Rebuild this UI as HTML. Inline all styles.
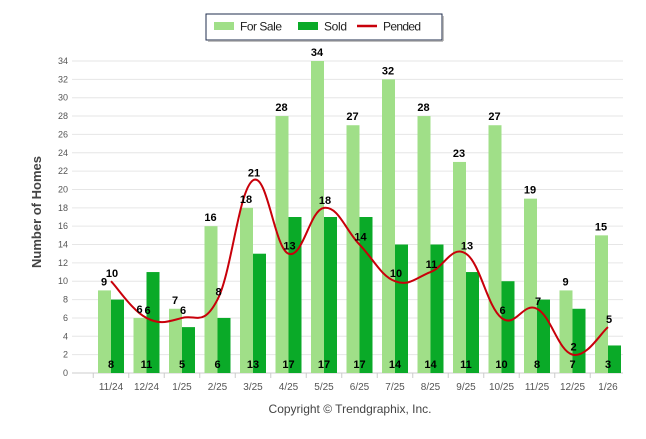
<!DOCTYPE html>
<html><head><meta charset="utf-8"><style>
body{margin:0;background:#fff;width:646px;height:434px;overflow:hidden;font-family:"Liberation Sans",sans-serif}
svg text{font-family:"Liberation Sans",sans-serif}
</style></head><body>
<svg id="c" width="646" height="434">
<g>
<rect x="206" y="14" width="236" height="26" fill="#fff" stroke="#1f2d4e" stroke-width="1"/>
<line x1="208" y1="41" x2="443" y2="41" stroke="#aaa" stroke-width="1.5"/>
<line x1="443" y1="16" x2="443" y2="41" stroke="#aaa" stroke-width="1.5"/>
<rect x="214" y="22" width="20" height="8" fill="#a0df88"/>
<text x="240" y="30.5" font-size="12" fill="#222" textLength="42">For Sale</text>
<rect x="298" y="22" width="20" height="8" fill="#0aaa28"/>
<text x="324" y="30.5" font-size="12" fill="#222" textLength="23">Sold</text>
<line x1="357" y1="26" x2="377" y2="26" stroke="#c8000a" stroke-width="2.5"/>
<text x="383" y="30.5" font-size="12" fill="#222" textLength="38">Pended</text>
</g>
<text transform="translate(41,212) rotate(-90)" text-anchor="middle" font-size="13" font-weight="bold" fill="#444">Number of Homes</text>
<text x="350" y="413" text-anchor="middle" font-size="12" fill="#444">Copyright © Trendgraphix, Inc.</text>
<g id="grid"></g><g id="bars"></g><g id="line"></g><g id="labels"></g>
</svg>
<script>
const categories=["11/24","12/24","1/25","2/25","3/25","4/25","5/25","6/25","7/25","8/25","9/25","10/25","11/25","12/25","1/26"];
const forSale=[9,6,7,16,18,28,34,27,32,28,23,27,19,9,15];
const sold=[8,11,5,6,13,17,17,17,14,14,11,10,8,7,3];
const pended=[10,6,6,8,21,13,18,14,10,11,13,6,7,2,5];
const yTicks=[0,2,4,6,8,10,12,14,16,18,20,22,24,26,28,30,32,34];
const NS="http://www.w3.org/2000/svg";
const y0=373,yTop=61,yMax=34;
function y(v){return y0-(y0-yTop)*v/yMax;}
function x(i){return 111+i*35.5;}
function mk(tag,attrs,parent,txt){const e=document.createElementNS(NS,tag);for(const k in attrs)e.setAttribute(k,attrs[k]);if(txt!==undefined)e.textContent=txt;document.getElementById(parent).appendChild(e);return e;}
yTicks.forEach(t=>{
 const l=mk('line',{x1:72,x2:623,y1:y(t),y2:y(t),stroke:t===0?'#ccc':'#e6e6e6','stroke-width':1},'grid');
 
 
 const tx=mk('text',{x:68,y:y(t)+3,'text-anchor':'end','font-size':9,fill:'#555'},'grid',t);
 
 
});
categories.forEach((c,i)=>{
 const tk=mk('line',{x1:x(i)-17.75,x2:x(i)-17.75,y1:y0,y2:y0+5,stroke:'#ccc'},'grid');
 
 
 const t=mk('text',{x:x(i),y:390,'text-anchor':'middle','font-size':10,fill:'#555'},'grid',c);
 
 
 const b1=mk('rect',{x:x(i)-13,y:y(forSale[i]),width:13,height:y0-y(forSale[i]),fill:'#a0df88'},'bars');
 
 
 const b2=mk('rect',{x:x(i),y:y(sold[i]),width:13,height:y0-y(sold[i]),fill:'#0aaa28'},'bars');
 
 
 const l1=mk('text',{x:x(i)-7,y:y(forSale[i])-5,'text-anchor':'middle','font-size':11,'font-weight':'bold',fill:'#000'},'labels',forSale[i]);
 
 
 const l2=mk('text',{x:x(i),y:368,'text-anchor':'middle','font-size':11,'font-weight':'bold',fill:'#000'},'labels',sold[i]);
 
 
 const l3=mk('text',{x:x(i)+1,y:y(pended[i])-4,'text-anchor':'middle','font-size':11,'font-weight':'bold',fill:'#000'},'labels',pended[i]);
 
 
});
const pts=pended.map((v,i)=>[x(i),y(v)]);
let d='M'+pts[0][0]+','+pts[0][1];
for(let i=0;i<pts.length-1;i++){
 const p0=pts[i-1]||pts[i],p1=pts[i],p2=pts[i+1],p3=pts[i+2]||p2;
 const k=0.2;
 d+=' C'+(p1[0]+(p2[0]-p0[0])*k)+','+(p1[1]+(p2[1]-p0[1])*k)+' '+(p2[0]-(p3[0]-p1[0])*k)+','+(p2[1]-(p3[1]-p1[1])*k)+' '+p2[0]+','+p2[1];
}
const pl=mk('path',{d:d,fill:'none',stroke:'#c8000a','stroke-width':2},'line');


</script>
</body></html>
